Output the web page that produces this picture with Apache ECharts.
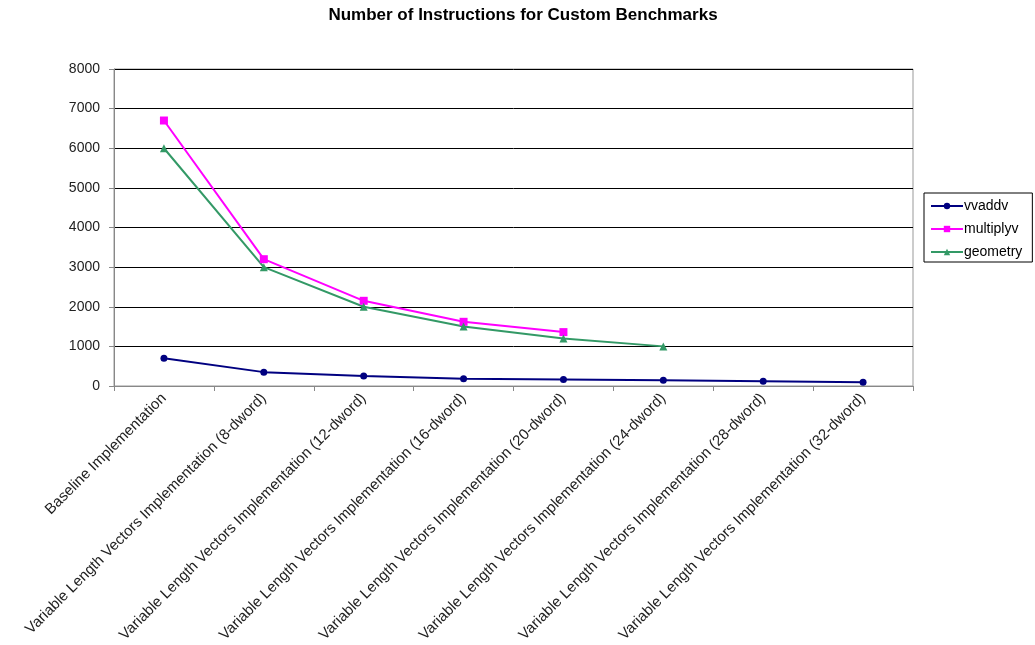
<!DOCTYPE html>
<html>
<head>
<meta charset="utf-8">
<script src="https://cdn.jsdelivr.net/npm/echarts@6/dist/echarts.min.js"></script>
<style>
  html, body { margin: 0; padding: 0; background: #fff; }
  #chart { width: 1035px; height: 645px; }
</style>
</head>
<body>
<div id="chart"></div>
<script>
// Benchmark implementations along the x axis
const categories = [
  'Baseline Implementation',
  'Variable Length Vectors Implementation (8-dword)',
  'Variable Length Vectors Implementation (12-dword)',
  'Variable Length Vectors Implementation (16-dword)',
  'Variable Length Vectors Implementation (20-dword)',
  'Variable Length Vectors Implementation (24-dword)',
  'Variable Length Vectors Implementation (28-dword)',
  'Variable Length Vectors Implementation (32-dword)'
];

// Instruction counts per benchmark
const vvaddv = [700, 350, 250, 185, 165, 145, 120, 95];
const multiplyv = [6700, 3200, 2150, 1620, 1360];
const geometry = [6000, 3000, 2000, 1500, 1200, 1000];

const yTicks = { min: 0, max: 8000, interval: 1000 };

const chart = echarts.init(document.getElementById('chart'));
const font = 'Liberation Sans, Arial, sans-serif';

function lineSeries(name, data, color, symbol, size) {
  return {
    name: name,
    type: 'line',
    data: data,
    symbol: symbol,
    symbolSize: size,
    lineStyle: { color: color, width: 2 },
    itemStyle: { color: color },
    emphasis: { disabled: true },
    animation: false
  };
}

chart.setOption({
  animation: false,
  backgroundColor: '#fff',
  title: {
    text: 'Number of Instructions for Custom Benchmarks',
    left: 518,
    textAlign: 'center',
    top: 2,
    textStyle: { fontFamily: font, fontSize: 17, fontWeight: 'bold', color: '#000' }
  },
  legend: {
    orient: 'vertical',
    left: 924,
    top: 193,
    width: 108,
    padding: [6, 10, 3, 6],
    itemGap: 9,
    itemWidth: 32,
    itemHeight: 8,
    borderColor: '#000',
    borderWidth: 1,
    textStyle: { fontFamily: font, fontSize: 14, color: '#000', padding: [0, 0, 0, -4] },
    data: ['vvaddv', 'multiplyv', 'geometry']
  },
  grid: {
    left: 114,
    right: 122,
    top: 69,
    bottom: 259,
    show: true,
    borderColor: '#999',
    borderWidth: 1,
    containLabel: false
  },
  xAxis: {
    type: 'category',
    data: categories,
    boundaryGap: true,
    axisLine: { lineStyle: { color: '#888', width: 1 } },
    axisTick: { show: true, length: 5, lineStyle: { color: '#888' } },
    axisLabel: {
      rotate: 45,
      interval: 0,
      margin: 10,
      fontFamily: font,
      fontSize: 15,
      color: '#222'
    },
    splitLine: { show: false }
  },
  yAxis: {
    type: 'value',
    min: yTicks.min,
    max: yTicks.max,
    interval: yTicks.interval,
    axisLine: { show: true, lineStyle: { color: '#888', width: 1 } },
    axisTick: { show: true, length: 5, lineStyle: { color: '#888' } },
    axisLabel: {
      fontFamily: font, fontSize: 14, color: '#222', margin: 14,
      formatter: function (v) { return String(v); }
    },
    splitLine: { show: true, lineStyle: { color: '#000', width: 1 } }
  },
  series: [
    lineSeries('vvaddv', vvaddv, '#000080', 'circle', 7),
    lineSeries('multiplyv', multiplyv, '#ff00ff', 'rect', 8),
    lineSeries('geometry', geometry, '#339966', 'triangle', 8)
  ]
});
</script>
</body>
</html>
